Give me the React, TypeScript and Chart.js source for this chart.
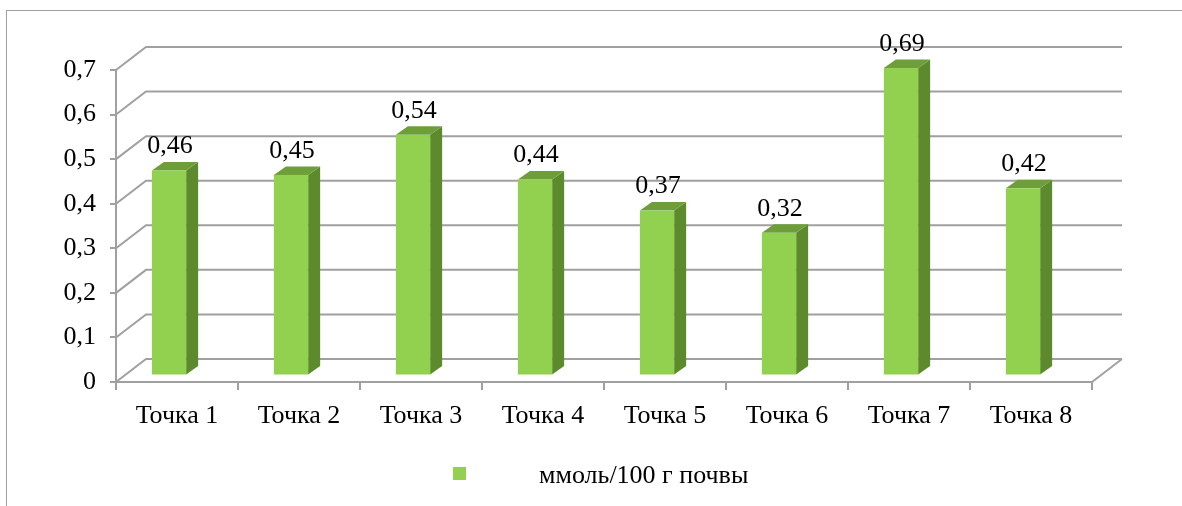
import React, { useEffect, useRef } from 'react';
import { Chart, registerables } from 'chart.js';

Chart.register(...registerables);

const categories = ['Точка 1', 'Точка 2', 'Точка 3', 'Точка 4', 'Точка 5', 'Точка 6', 'Точка 7', 'Точка 8'];
const values = [0.46, 0.45, 0.54, 0.44, 0.37, 0.32, 0.69, 0.42];
const seriesLabel = 'ммоль/100 г почвы';
const yMin = 0;
const yMax = 0.7;
const yStep = 0.1;

const FONT = '"Liberation Serif", "Times New Roman", serif';
const GRID = '#A0A0A0';
const FRONT = '#92D050';
const SIDE = '#5E8A2E';
const TOP = '#6E9E3A';

// projection offsets
const WALL_DX = 30;
const WALL_DY = -23;
const BAR_DX = -8;
const BAR_DY = -6.5;
const DEPTH_DX = 12;
const DEPTH_DY = -8.5;

const fmt = (v: number) => (v === 0 ? '0' : v.toFixed(2).replace(/0$/, '').replace('.', ','));

const threeD = {
  id: 'threeD',
  beforeDraw(chart: any) {
    const ctx = chart.ctx;
    ctx.save();
    ctx.strokeStyle = '#A0A0A0';
    ctx.lineWidth = 1;
    ctx.strokeRect(6.5, 10.5, 1300, 600);
    ctx.restore();
  },
  beforeDatasetsDraw(chart: any) {
    const ctx = chart.ctx;
    const y = chart.scales.y;
    const x = chart.scales.x;
    const left = x.left;
    const right = x.right;
    ctx.save();
    ctx.strokeStyle = GRID;
    ctx.lineWidth = 2;
    for (let v = yMin; v <= yMax + 1e-9; v += yStep) {
      const py = y.getPixelForValue(v);
      ctx.beginPath();
      ctx.moveTo(left, py);
      ctx.lineTo(left + WALL_DX, py + WALL_DY);
      ctx.lineTo(right + WALL_DX, py + WALL_DY);
      ctx.stroke();
    }
    const p0 = y.getPixelForValue(yMin);
    ctx.beginPath();
    ctx.moveTo(right, p0);
    ctx.lineTo(right + WALL_DX, p0 + WALL_DY);
    ctx.stroke();
    ctx.restore();
  },
  afterDatasetsDraw(chart: any) {
    const ctx = chart.ctx;
    const meta = chart.getDatasetMeta(0);
    ctx.save();
    meta.data.forEach((el: any, i: number) => {
      const { x, y, base, width } = el.getProps(['x', 'y', 'base', 'width'], true);
      const l = x - width / 2 + BAR_DX;
      const r = x + width / 2 + BAR_DX;
      const t = y + BAR_DY;
      const b = base + BAR_DY;
      // side
      ctx.fillStyle = SIDE;
      ctx.beginPath();
      ctx.moveTo(r, t);
      ctx.lineTo(r + DEPTH_DX, t + DEPTH_DY);
      ctx.lineTo(r + DEPTH_DX, b + DEPTH_DY);
      ctx.lineTo(r, b);
      ctx.closePath();
      ctx.fill();
      // top
      ctx.fillStyle = TOP;
      ctx.beginPath();
      ctx.moveTo(l, t);
      ctx.lineTo(l + DEPTH_DX, t + DEPTH_DY);
      ctx.lineTo(r + DEPTH_DX, t + DEPTH_DY);
      ctx.lineTo(r, t);
      ctx.closePath();
      ctx.fill();
      // front
      ctx.fillStyle = FRONT;
      ctx.fillRect(l, t, r - l, b - t);
      // label
      ctx.fillStyle = '#000';
      ctx.font = `26px ${FONT}`;
      ctx.textAlign = 'center';
      ctx.textBaseline = 'middle';
      ctx.fillText(fmt(values[i]), (l + r) / 2 + 1, t - 24);
    });
    ctx.restore();
  },
  afterDraw(chart: any) {
    const ctx = chart.ctx;
    ctx.save();
    ctx.fillStyle = FRONT;
    ctx.fillRect(453, 467, 13, 13);
    ctx.fillStyle = '#000';
    ctx.font = `26px ${FONT}`;
    ctx.textAlign = 'left';
    ctx.textBaseline = 'middle';
    ctx.fillText(seriesLabel, 539, 476);
    ctx.restore();
  },
};

export default function App() {
  const ref = useRef<HTMLCanvasElement | null>(null);
  useEffect(() => {
    if (!ref.current) return;
    const chart = new Chart(ref.current, {
      type: 'bar',
      data: {
        labels: categories,
        datasets: [
          {
            label: seriesLabel,
            data: values,
            backgroundColor: 'rgba(0,0,0,0)',
            borderWidth: 0,
            barPercentage: 0.281,
            categoryPercentage: 1,
          },
        ],
      },
      options: {
        responsive: false,
        animation: false,
        layout: { padding: { top: 70, right: 90, left: 0, bottom: 0 } },
        plugins: { legend: { display: false }, tooltip: { enabled: false } },
        scales: {
          x: {
            afterFit: (s: any) => { s.height = 124; },
            grid: { display: true, drawOnChartArea: false, drawTicks: true, tickLength: 8, color: GRID, lineWidth: 2, offset: true },
            border: { display: true, color: GRID, width: 2 },
            ticks: { color: '#000', font: { family: FONT, size: 26 }, padding: 11, maxRotation: 0 },
          },
          y: {
            min: yMin,
            max: yMax,
            afterFit: (s: any) => { s.width = 116; },
            grid: { display: true, drawOnChartArea: false, drawTicks: true, tickLength: 6, color: GRID, lineWidth: 2 },
            border: { display: true, color: GRID, width: 2 },
            ticks: {
              stepSize: yStep,
              color: '#000',
              font: { family: FONT, size: 26 },
              padding: 14,
              callback: (v: any) => (Number(v) === 0 ? '0' : Number(v).toFixed(1).replace('.', ',')),
            },
          },
        },
      },
      plugins: [threeD],
    });
    return () => chart.destroy();
  }, []);
  return (
    <div style={{ position: 'fixed', left: 0, top: 0, width: 1182, height: 506, background: '#fff' }}>
      <canvas ref={ref} width={1182} height={506} style={{ display: 'block' }} />
    </div>
  );
}
